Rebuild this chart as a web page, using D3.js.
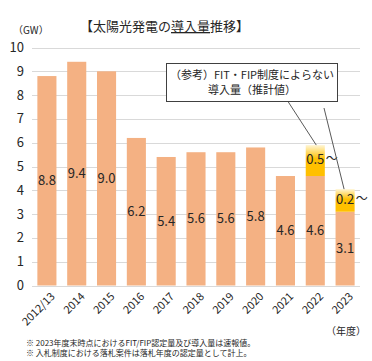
<!DOCTYPE html>
<html>
<head>
<meta charset="utf-8">
<script src="https://cdn.jsdelivr.net/npm/d3@7"></script>
<style>
  body { margin: 0; background: #fff; }
  svg text { font-family: "Noto Sans CJK JP", "Noto Sans", sans-serif; fill: #262626; }
</style>
</head>
<body>
<script>
// data
var years = ["2012/13", "2014", "2015", "2016", "2017", "2018", "2019", "2020", "2021", "2022", "2023"];
var fitValues = [8.8, 9.4, 9.0, 6.2, 5.4, 5.6, 5.6, 5.8, 4.6, 4.6, 3.1];
// non-FIT estimate: drawn height of the yellow cap, and its label
var extraHeights = [0, 0, 0, 0, 0, 0, 0, 0, 0, 1.3, 0.95];
var extraLabels = ["", "", "", "", "", "", "", "", "", "0.5", "0.2"];
var yTicks = [0, 1, 2, 3, 4, 5, 6, 7, 8, 9, 10];
var footnotes = [
  "※ 2023年度末時点におけるFIT/FIP認定量及び導入量は速報値。",
  "※ 入札制度における落札案件は落札年度の認定量として計上。"
];

(function(){
  var width = 372, height = 361;
  var margin = {left: 32, right: 12, top: 47.5, bottom: 75.5};

  var svg = d3.select("body").append("svg")
    .attr("width", width)
    .attr("height", height);

  var defs = svg.append("defs");
  var grad = defs.append("linearGradient")
    .attr("id", "fade")
    .attr("x1", 0).attr("y1", 1).attr("x2", 0).attr("y2", 0);
  grad.append("stop").attr("offset", "0%").attr("stop-color", "#ffc000");
  grad.append("stop").attr("offset", "55%").attr("stop-color", "#ffc000");
  grad.append("stop").attr("offset", "100%").attr("stop-color", "#fff6d6");

  var x = d3.scaleBand()
    .domain(years)
    .range([margin.left, width - margin.right])
    .paddingInner(0.36)
    .paddingOuter(0.18);

  var y = d3.scaleLinear()
    .domain([0, 10])
    .range([height - margin.bottom, margin.top]);

  //gridlines
  svg.selectAll(".grid")
    .data(yTicks)
    .enter()
    .append("line")
    .attr("x1", margin.left)
    .attr("x2", width - margin.right)
    .attr("y1", function(d){ return Math.round(y(d)) + 0.5; })
    .attr("y2", function(d){ return Math.round(y(d)) + 0.5; })
    .attr("stroke", "#d9d9d9")
    .attr("stroke-width", 1);

  //y tick labels
  svg.selectAll(".ytick")
    .data(yTicks)
    .enter()
    .append("text")
    .attr("x", 24)
    .attr("y", function(d){ return y(d); })
    .attr("dy", "0.35em")
    .attr("text-anchor", "end")
    .style("font-size", "13px")
    .text(function(d){ return d; });

  //FIT bars
  svg.selectAll(".bar")
    .data(years)
    .enter()
    .append("rect")
    .attr("x", function(d){ return x(d); })
    .attr("width", x.bandwidth())
    .attr("y", function(d, i){ return y(fitValues[i]); })
    .attr("height", function(d, i){ return y(0) - y(fitValues[i]); })
    .attr("fill", "#f4b183");

  //yellow caps
  svg.selectAll(".cap")
    .data(years.filter(function(d, i){ return extraHeights[i] > 0; }))
    .enter()
    .append("rect")
    .attr("x", function(d){ return x(d); })
    .attr("width", x.bandwidth())
    .attr("y", function(d){
      var i = years.indexOf(d);
      return y(fitValues[i] + extraHeights[i]);
    })
    .attr("height", function(d){
      var i = years.indexOf(d);
      return y(fitValues[i]) - y(fitValues[i] + extraHeights[i]);
    })
    .attr("fill", "url(#fade)");

  //bar value labels
  svg.selectAll(".num")
    .data(years)
    .enter()
    .append("text")
    .attr("x", function(d){ return x(d) + x.bandwidth() / 2; })
    .attr("y", function(d, i){ return y(fitValues[i] / 2); })
    .attr("dy", "0.35em")
    .attr("text-anchor", "middle")
    .style("font-size", "13px")
    .text(function(d, i){ return fitValues[i].toFixed(1); });

  //cap labels
  years.forEach(function(d, i){
    if (!extraLabels[i]) return;
    var cy = y(fitValues[i] + extraHeights[i] * 0.55);
    svg.append("text")
      .attr("x", x(d) + x.bandwidth() / 2)
      .attr("y", cy)
      .attr("dy", "0.35em")
      .attr("text-anchor", "middle")
      .style("font-size", "13px")
      .text(extraLabels[i]);
    svg.append("text")
      .attr("x", x(d) + x.bandwidth() + 1)
      .attr("y", cy)
      .attr("dy", "0.35em")
      .style("font-size", "12px")
      .text("～");
  });

  //x labels rotated
  svg.selectAll(".xlab")
    .data(years)
    .enter()
    .append("text")
    .attr("transform", function(d){
      return "translate(" + (x(d) + x.bandwidth() / 2 + 6) + "," + (y(0) + 9) + ") rotate(-45)";
    })
    .attr("text-anchor", "end")
    .attr("dy", "0.35em")
    .style("font-size", "11px")
    .text(function(d){ return d; });

  //callout box
  var box = {x: 166.5, y: 63.5, w: 171, h: 38};
  var i22 = years.indexOf("2022"), i23 = years.indexOf("2023");
  svg.append("line")
    .attr("x1", 288).attr("y1", box.y + box.h)
    .attr("x2", x("2022") + x.bandwidth() / 2 + 1)
    .attr("y2", y(fitValues[i22] + extraHeights[i22]))
    .attr("stroke", "#595959");
  svg.append("line")
    .attr("x1", 324).attr("y1", 108)
    .attr("x2", x("2023") + x.bandwidth() / 2 - 1)
    .attr("y2", y(fitValues[i23] + extraHeights[i23]))
    .attr("stroke", "#595959");
  svg.append("rect")
    .attr("x", box.x).attr("y", box.y)
    .attr("width", box.w).attr("height", box.h)
    .attr("fill", "#fff")
    .attr("stroke", "#404040");
  svg.append("text")
    .attr("x", box.x + box.w / 2).attr("y", 79)
    .attr("text-anchor", "middle")
    .style("font-size", "11px")
    .text("（参考）FIT・FIP制度によらない");
  svg.append("text")
    .attr("x", box.x + box.w / 2).attr("y", 94)
    .attr("text-anchor", "middle")
    .style("font-size", "11px")
    .text("導入量（推計値）");

  //title
  var title = svg.append("text")
    .attr("x", 80).attr("y", 31)
    .style("font-size", "13px");
  title.append("tspan").text("【太陽光発電の");
  title.append("tspan").style("text-decoration", "underline").text("導入量");
  title.append("tspan").text("推移】");

  svg.append("text")
    .attr("x", 13).attr("y", 34)
    .style("font-size", "10px")
    .text("（GW）");

  svg.append("text")
    .attr("x", 366).attr("y", 335)
    .attr("text-anchor", "end")
    .style("font-size", "10px")
    .text("（年度）");

  svg.selectAll(".foot")
    .data(footnotes)
    .enter()
    .append("text")
    .attr("x", 26)
    .attr("y", function(d, i){ return 346 + i * 10; })
    .style("font-size", "8px")
    .text(function(d){ return d; });
})();
</script>
</body>
</html>
